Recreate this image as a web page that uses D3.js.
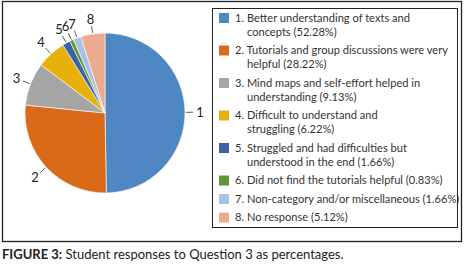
<!DOCTYPE html>
<html>
<head>
<meta charset="utf-8">
<script src="https://cdn.jsdelivr.net/npm/d3@7"></script>
<style>
  body { margin: 0; background: #fff; }
  text { font-family: Lato, "Open Sans", sans-serif; }
</style>
</head>
<body>
<script>
// Data
const categories = [
  'Better understanding of texts and\nconcepts',
  'Tutorials and group discussions were very\nhelpful',
  'Mind maps and self-effort helped in\nunderstanding',
  'Difficult to understand and\nstruggling',
  'Struggled and had difficulties but\nunderstood in the end',
  'Did not find the tutorials helpful',
  'Non-category and/or miscellaneous',
  'No response'
];
const values = [52.28, 28.22, 9.13, 6.22, 1.66, 0.83, 1.66, 5.12];
const colors = ['#4E87C1', '#D86A1A', '#A5A5A5', '#E7B00A', '#3D62A8', '#5F9637', '#A7C3E4', '#EDAA8E'];
const captionBold = 'FIGURE 3:';
const captionText = ' Student responses to Question 3 as percentages.';

const width = 468;
const height = 270;
const cx = 105;
const cy = 113;
const radius = 80;

const data = values.map((v, i) => ({ id: i + 1, name: categories[i], value: v, color: colors[i] }));

const svg = d3.select('body')
  .append('svg')
  .attr('width', width)
  .attr('height', height);

// Outer frame
svg.append('rect')
  .attr('x', 2.5)
  .attr('y', 1.5)
  .attr('width', 459)
  .attr('height', 240)
  .attr('fill', 'none')
  .attr('stroke', '#222')
  .attr('stroke-width', 1.3);

// Pie
const pie = d3.pie().value((d) => d.value).sort(null);
const arc = d3.arc().innerRadius(0).outerRadius(radius);
const arcs = pie(data);

const pieG = svg.append('g')
  .attr('transform', `translate(${cx},${cy})`);

pieG.selectAll('path')
  .data(arcs)
  .join('path')
  .attr('d', arc)
  .attr('fill', (d) => d.data.color)
  .attr('stroke', '#fff')
  .attr('stroke-width', 0.6);

// Labels with leader lines
const mid = (d) => (d.startAngle + d.endAngle) / 2;
const polar = (a, r) => [Math.sin(a) * r, -Math.cos(a) * r];

pieG.selectAll('line.leader')
  .data(arcs)
  .join('line')
  .attr('class', 'leader')
  .attr('x1', (d) => polar(mid(d), radius + 1)[0])
  .attr('y1', (d) => polar(mid(d), radius + 1)[1])
  .attr('x2', (d) => polar(mid(d), radius + 8)[0])
  .attr('y2', (d) => polar(mid(d), radius + 8)[1])
  .attr('stroke', '#333')
  .attr('stroke-width', 0.8);

pieG.selectAll('text.num')
  .data(arcs)
  .join('text')
  .attr('class', 'num')
  .attr('x', (d) => polar(mid(d), radius + 15)[0])
  .attr('y', (d) => polar(mid(d), radius + 15)[1])
  .attr('dy', '0.35em')
  .attr('text-anchor', 'middle')
  .attr('font-size', '13px')
  .attr('fill', '#222')
  .text((d) => d.data.id);

// Legend
const legend = svg.append('g');
legend.append('rect')
  .attr('x', 212.5)
  .attr('y', 8.5)
  .attr('width', 245)
  .attr('height', 219)
  .attr('fill', 'none')
  .attr('stroke', '#222')
  .attr('stroke-width', 1);

const lineH = 14;
const gap = 18.5;
let cursor = 18;
data.forEach((d) => {
  const lines = d.name.split('\n');
  lines[0] = `${d.id}. ${lines[0]}`;
  lines[lines.length - 1] += ` (${d.value.toFixed(2)}%)`;

  legend.append('rect')
    .attr('x', 219)
    .attr('y', cursor - 5)
    .attr('width', 10)
    .attr('height', 10)
    .attr('fill', d.color);

  lines.forEach((t, j) => {
    legend.append('text')
      .attr('x', j === 0 ? 235 : 247)
      .attr('y', cursor + j * lineH)
      .attr('dy', '0.35em')
      .attr('font-size', '11.1px')
      .attr('fill', '#333')
      .text(t);
  });
  cursor += (lines.length - 1) * lineH + gap;
});

// Caption
const cap = svg.append('text')
  .attr('x', 2)
  .attr('y', 259)
  .attr('font-size', '13px')
  .attr('fill', '#222');
cap.append('tspan').attr('font-weight', 'bold').text(captionBold);
cap.append('tspan').text(captionText);
</script>
</body>
</html>
